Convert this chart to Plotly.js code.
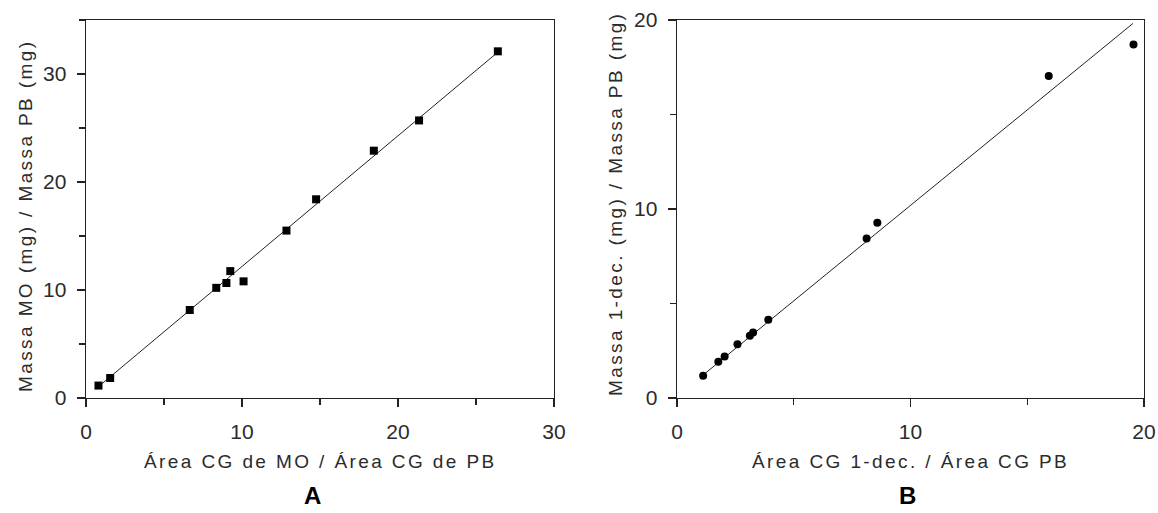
<!DOCTYPE html>
<html>
<head>
<meta charset="utf-8">
<script src="https://cdn.plot.ly/plotly-3.0.1.min.js"></script>
<style>
  html, body { margin: 0; padding: 0; background: #fff; }
  #chart { width: 1158px; height: 513px; }
  .annotation-text { letter-spacing: 2.4px; }
</style>
</head>
<body>
<div id="chart"></div>
<script>
// ---- Data ----
// Panel A
const areaRatioA = [0.8, 1.55, 6.65, 8.35, 9.0, 9.25, 10.1, 12.85, 14.75, 18.45, 21.35, 26.4];
const massRatioA = [1.15, 1.85, 8.15, 10.2, 10.65, 11.75, 10.8, 15.5, 18.4, 22.9, 25.7, 32.1];
const fitA_x = [0.7, 26.3];
const fitA_y = [0.93, 31.9];
// Panel B
const areaRatioB = [1.12, 1.77, 2.04, 2.59, 3.12, 3.26, 3.91, 8.12, 8.58, 15.92, 19.55];
const massRatioB = [1.18, 1.92, 2.2, 2.85, 3.3, 3.47, 4.14, 8.44, 9.27, 17.04, 18.71];
const fitB_x = [1.17, 19.53];
const fitB_y = [1.27, 19.82];

const titleXA = 'Área CG de MO / Área CG de PB';
const titleYA = 'Massa MO (mg) / Massa PB (mg)';
const titleXB = 'Área CG 1-dec. / Área CG PB';
const titleYB = 'Massa 1-dec. (mg) / Massa PB (mg)';

// ---- Layout helpers (pixel -> paper) ----
const W = 1158, H = 513;
const fx = p => p / W;
const fy = p => 1 - p / H;

const textColor = '#2b2b2b';
const tickFont = { family: '"Liberation Sans Narrow", "Arial Narrow", "Liberation Sans", Arial, sans-serif', size: 21, color: textColor };
const titleFont = { family: '"Liberation Sans", Arial, sans-serif', size: 19, color: textColor };

function axisBase(range, dtick, domain, anchor) {
  return {
    range: range, domain: domain, anchor: anchor,
    dtick: dtick, tick0: 0,
    ticks: 'outside', ticklen: 8, tickwidth: 1.2, tickcolor: '#222',
    minor: { dtick: dtick / 2, tick0: 0, ticks: 'outside', ticklen: 6, tickwidth: 1.2, tickcolor: '#222' },
    showline: true, linecolor: '#222', linewidth: 1.4, mirror: true,
    showgrid: false, zeroline: false,
    tickfont: tickFont, ticklabelstandoff: 6,
    fixedrange: true
  };
}

const traces = [
  { x: fitA_x, y: fitA_y, xaxis: 'x', yaxis: 'y', mode: 'lines',
    line: { color: '#222', width: 1 }, hoverinfo: 'skip' },
  { x: areaRatioA, y: massRatioA, xaxis: 'x', yaxis: 'y', mode: 'markers',
    marker: { symbol: 'square', size: 8, color: '#000' } },
  { x: fitB_x, y: fitB_y, xaxis: 'x2', yaxis: 'y2', mode: 'lines',
    line: { color: '#222', width: 1 }, hoverinfo: 'skip' },
  { x: areaRatioB, y: massRatioB, xaxis: 'x2', yaxis: 'y2', mode: 'markers',
    marker: { symbol: 'circle', size: 8, color: '#000' } }
];

const yDom = [fy(398), fy(20)];

const layout = {
  width: W, height: H,
  margin: { l: 0, r: 0, t: 0, b: 0 },
  paper_bgcolor: '#fff', plot_bgcolor: '#fff',
  showlegend: false,
  xaxis: axisBase([0, 30], 10, [fx(86), fx(554)], 'y'),
  yaxis: axisBase([0, 35], 10, yDom, 'x'),
  xaxis2: axisBase([0, 20], 10, [fx(677), fx(1144)], 'y2'),
  yaxis2: axisBase([0, 20], 10, yDom, 'x2'),
  annotations: [
    { text: titleXA, xref: 'paper', yref: 'paper', x: fx(320), y: fy(461), xanchor: 'center', yanchor: 'middle', showarrow: false, font: titleFont },
    { text: titleXB, xref: 'paper', yref: 'paper', x: fx(910), y: fy(461), xanchor: 'center', yanchor: 'middle', showarrow: false, font: titleFont },
    { text: titleYA, xref: 'paper', yref: 'paper', x: fx(25), y: fy(216), xanchor: 'center', yanchor: 'middle', textangle: -90, showarrow: false, font: titleFont },
    { text: titleYB, xref: 'paper', yref: 'paper', x: fx(615), y: fy(204), xanchor: 'center', yanchor: 'middle', textangle: -90, showarrow: false, font: titleFont },
    { text: '<b>A</b>', xref: 'paper', yref: 'paper', x: fx(314), y: fy(495), xanchor: 'center', yanchor: 'middle', showarrow: false, font: { family: '"Liberation Sans", Arial, sans-serif', size: 24, color: '#000' } },
    { text: '<b>B</b>', xref: 'paper', yref: 'paper', x: fx(909), y: fy(495), xanchor: 'center', yanchor: 'middle', showarrow: false, font: { family: '"Liberation Sans", Arial, sans-serif', size: 24, color: '#000' } }
  ]
};

Plotly.newPlot('chart', traces, layout, { displayModeBar: false, staticPlot: true });
</script>
</body>
</html>
